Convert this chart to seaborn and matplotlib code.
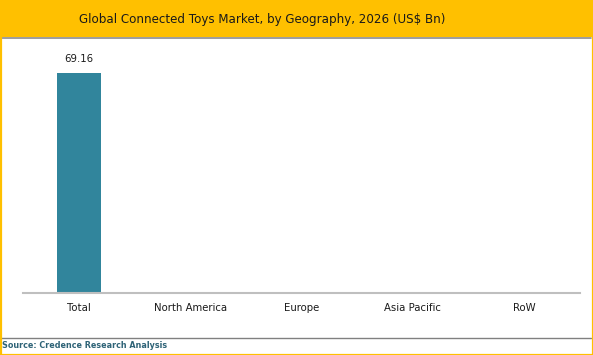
import matplotlib
matplotlib.use("Agg")
import matplotlib.pyplot as plt
import seaborn as sns
import pandas as pd
from matplotlib.patches import Rectangle
from matplotlib.lines import Line2D

categories = ["Total", "North America", "Europe", "Asia Pacific", "RoW"]
values = [69.16, 0, 0, 0, 0]
title = "Global Connected Toys Market, by Geography, 2026 (US$ Bn)"
source = "Source: Credence Research Analysis"

sns.set_theme(style="white")
plt.rcParams['font.family'] = ['DejaVu Sans']

W, H = 593, 355
fig = plt.figure(figsize=(W / 100, H / 100), dpi=100)
fig.patch.set_facecolor("white")

# title bar
fig.patches.append(Rectangle((0, 1 - 37 / H), 1, 37 / H, transform=fig.transFigure,
                             facecolor="#FFC000", edgecolor="none", zorder=0))
fig.lines.append(Line2D([2 / W, 1 - 2 / W], [1 - 37.5 / H, 1 - 37.5 / H], transform=fig.transFigure,
                        color="#8C8C8C", lw=1.2))
fig.text(262 / W, 1 - 20 / H, title, ha="center", va="center", fontsize=8.6, color="#1A1A1A")

# border
fig.patches.append(Rectangle((0.5 / W, 0.5 / H), 1 - 1 / W, 1 - 1 / H, transform=fig.transFigure,
                             facecolor="none", edgecolor="#FFC000", lw=1.6, zorder=10))

# separator + source
fig.lines.append(Line2D([0, 1 - 2 / W], [1 - 337.5 / H, 1 - 337.5 / H], transform=fig.transFigure,
                        color="#808080", lw=1.0))
fig.text(2 / W, 1 - 345.5 / H, source, ha="left", va="center", fontsize=5.75,
         fontweight="bold", color="#2E6377")

ax = fig.add_axes([23 / W, 1 - 293 / H, (580 - 23) / W, (293 - 40) / H])
df = pd.DataFrame({"cat": categories, "val": values})
sns.barplot(data=df, x="cat", y="val", ax=ax, color="#31859C", width=0.395, saturation=1,
            linewidth=0)
ax.set_ylim(0, 79.5)
ax.set_xlim(-0.5, len(categories) - 0.5)
ax.set_xlabel("")
ax.set_ylabel("")
ax.set_yticks([])
for s in ["top", "right", "left"]:
    ax.spines[s].set_visible(False)
ax.spines["bottom"].set_color("#BFBFBF")
ax.spines["bottom"].set_linewidth(1.5)
ax.tick_params(axis="x", length=0, pad=7, labelsize=7.3, labelcolor="#1A1A1A")
for i, v in enumerate(values):
    if v:
        ax.annotate(f"{v:.2f}", (i, v), xytext=(0, 6.5), textcoords="offset points",
                    ha="center", va="bottom", fontsize=7.3, color="#1A1A1A")

fig.savefig("out.png", dpi=100)
